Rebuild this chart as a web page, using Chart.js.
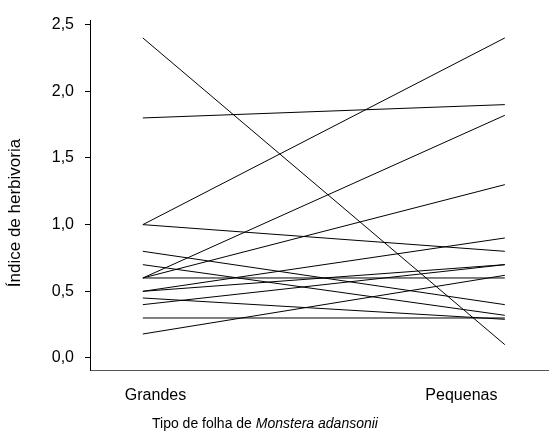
<!DOCTYPE html>
<html>
<head>
<meta charset="utf-8">
<script src="https://cdn.jsdelivr.net/npm/chart.js@4.4.1/dist/chart.umd.min.js"></script>
<style>
  html, body { margin: 0; padding: 0; background: #fff; }
  #wrap { width: 549px; height: 439px; position: relative; }
</style>
</head>
<body>
<div id="wrap"><canvas id="chart"></canvas></div>
<script>
// Herbivory index per plant, large leaves (Grandes) vs small leaves (Pequenas)
const groups = ['Grandes', 'Pequenas'];
const grandes  = [2.4, 1.8, 1.0, 1.0, 0.8, 0.7, 0.6, 0.6, 0.6, 0.5, 0.5, 0.45, 0.4, 0.3, 0.18];
const pequenas = [0.1, 1.9, 2.4, 0.8, 0.4, 0.32, 1.82, 1.3, 0.6, 0.9, 0.7, 0.29, 0.7, 0.3, 0.62];
const yTicks = [0, 0.5, 1.0, 1.5, 2.0, 2.5];
// where the group labels sit along the x axis (line ends are at 0 and 1)
const groupLabelPos = [0.035, 0.88];

const FONT = "'Liberation Sans', Arial, sans-serif";

const datasets = grandes.map((g, i) => ({
  data: [{ x: 0, y: g }, { x: 1, y: pequenas[i] }],
  borderColor: '#000',
  borderWidth: 1,
  pointRadius: 0,
  fill: false,
  tension: 0,
}));

// axis titles drawn by hand: the x title mixes plain and italic text
const axisTitles = {
  id: 'axisTitles',
  afterDraw(chart) {
    const { ctx } = chart;
    const a = 'Tipo de folha de ';
    const b = 'Monstera adansonii';
    ctx.save();
    ctx.fillStyle = '#000';
    ctx.textBaseline = 'middle';
    ctx.font = '14px ' + FONT;
    const wa = ctx.measureText(a).width;
    ctx.font = 'italic 14px ' + FONT;
    const wb = ctx.measureText(b).width;
    const x = 265 - (wa + wb) / 2;
    ctx.font = '14px ' + FONT;
    ctx.fillText(a, x, 424);
    ctx.font = 'italic 14px ' + FONT;
    ctx.fillText(b, x + wa, 424);

    ctx.translate(15, 213);
    ctx.rotate(-Math.PI / 2);
    ctx.textAlign = 'center';
    ctx.font = '17px ' + FONT;
    ctx.fillText('Índice de herbivoria', 0, 0);
    ctx.restore();
  },
};

new Chart(document.getElementById('chart'), {
  type: 'line',
  data: { datasets },
  options: {
    responsive: true,
    maintainAspectRatio: false,
    animation: false,
    layout: { padding: { top: 20, left: 0, right: 0, bottom: 0 } },
    plugins: { legend: { display: false }, tooltip: { enabled: false } },
    scales: {
      x: {
        type: 'linear',
        min: -0.146,
        max: 1.122,
        afterBuildTicks: (s) => { s.ticks = groupLabelPos.map((v) => ({ value: v })); },
        afterFit: (s) => { s.height = 69; },
        grid: { display: false },
        border: { display: true, color: '#555', width: 1 },
        ticks: {
          color: '#000',
          font: { family: FONT, size: 16 },
          padding: 8,
          maxRotation: 0,
          autoSkip: false,
          callback: (v, i) => groups[i],
        },
      },
      y: {
        type: 'linear',
        min: -0.09,
        max: 2.53,
        afterBuildTicks: (s) => { s.ticks = yTicks.map((v) => ({ value: v })); },
        afterFit: (s) => { s.width = 90; },
        grid: { drawOnChartArea: false, drawTicks: true, tickLength: 5, color: '#000' },
        border: { display: true, color: '#000', width: 1 },
        ticks: {
          color: '#000',
          font: { family: FONT, size: 16 },
          padding: 11,
          callback: (v) => v.toFixed(1).replace('.', ','),
        },
      },
    },
  },
  plugins: [axisTitles],
});
</script>
</body>
</html>
